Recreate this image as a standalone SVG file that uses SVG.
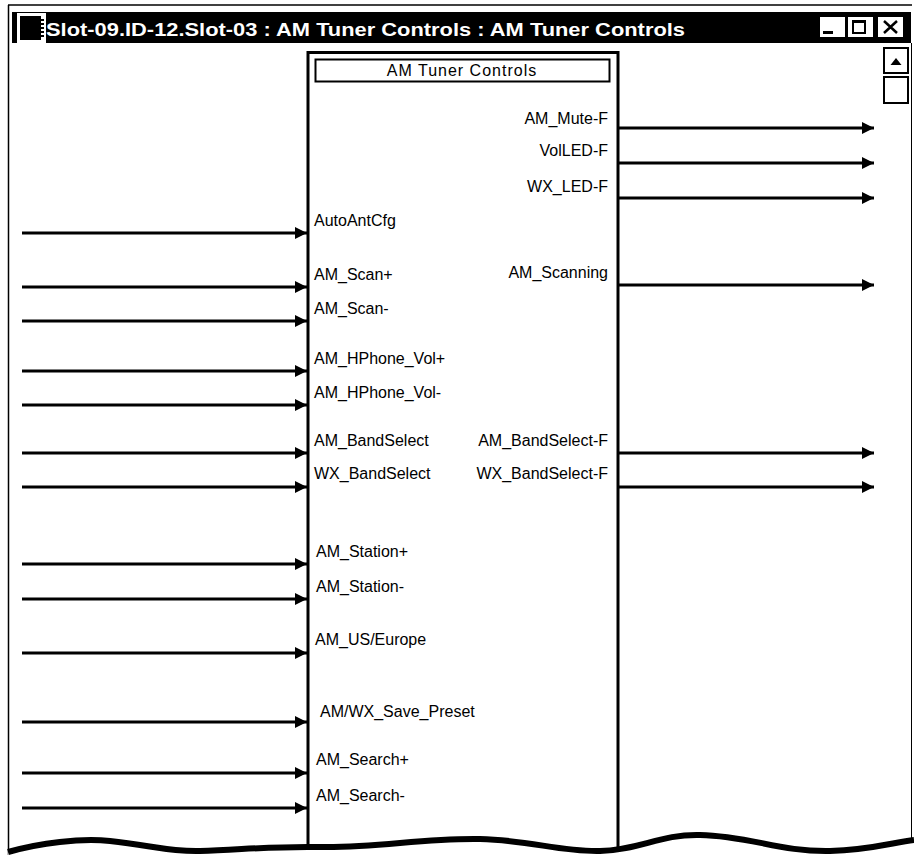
<svg xmlns="http://www.w3.org/2000/svg" width="914" height="855" viewBox="0 0 914 855">
<style>
.lbl{font-family:"Liberation Sans",Arial,sans-serif;font-size:16px;fill:#000}
.r{text-anchor:end}
.wire{stroke:#000;stroke-width:3;fill:none;marker-end:url(#ah)}
.frame{stroke:#000;fill:none}
</style>
<defs>
<marker id="ah" viewBox="0 0 12 12" refX="12" refY="6" markerWidth="12" markerHeight="12" markerUnits="userSpaceOnUse" orient="auto">
<path d="M0,0 L12,6 L0,12 z" fill="#000"/>
</marker>
</defs>
<rect width="914" height="855" fill="#fff"/>
<g id="window">
<line class="frame" x1="8" y1="5" x2="912" y2="5" stroke-width="1.5"/>
<line class="frame" x1="8.5" y1="5" x2="8.5" y2="855" stroke-width="1.5"/>
<line class="frame" x1="911.5" y1="43" x2="911.5" y2="855" stroke-width="1"/>
<rect x="12" y="12" width="899" height="31" fill="#000"/>
<rect x="17" y="13" width="29" height="30" fill="#fff"/>
<rect x="20" y="16" width="21" height="24" fill="#000"/>
<g fill="#000"><rect x="41" y="19" width="3" height="2"/><rect x="41" y="23" width="3" height="2"/><rect x="41" y="27" width="3" height="2"/><rect x="41" y="31" width="3" height="2"/><rect x="41" y="35" width="3" height="2"/></g>
<text x="46" y="36" font-family="Liberation Sans,Arial,sans-serif" font-weight="bold" font-size="19" fill="#fff" textLength="639" lengthAdjust="spacingAndGlyphs">Slot-09.ID-12.Slot-03 : AM Tuner Controls : AM Tuner Controls</text>
<rect x="820" y="17" width="25" height="20" fill="#fff"/>
<rect x="823" y="31" width="10" height="3" fill="#000"/>
<rect x="848" y="17" width="25" height="20" fill="#fff"/>
<rect x="853" y="21" width="12" height="12" fill="none" stroke="#000" stroke-width="2"/>
<line x1="853" y1="22" x2="865" y2="22" stroke="#000" stroke-width="2"/>
<rect x="878" y="17" width="25" height="20" fill="#fff"/>
<path d="M884,21 L897,33 M897,21 L884,33" stroke="#000" stroke-width="2.5"/>
<rect x="884" y="48" width="24" height="25" fill="#fff" stroke="#000" stroke-width="2"/>
<path d="M890.5,65 L896,58 L901.5,65 z" fill="#000"/>
<rect x="884" y="77" width="24" height="26" fill="#fff" stroke="#000" stroke-width="2"/>
</g>
<g id="block">
<rect x="308" y="52.5" width="310" height="820" fill="none" stroke="#000" stroke-width="3"/>
<rect x="315.5" y="59.5" width="294" height="22" fill="none" stroke="#000" stroke-width="2"/>
<text class="lbl" x="462" y="76" text-anchor="middle" letter-spacing="1">AM Tuner Controls</text>
<text class="lbl r" x="608" y="124">AM_Mute-F</text>
<text class="lbl r" x="608" y="156">VolLED-F</text>
<text class="lbl r" x="608" y="192">WX_LED-F</text>
<text class="lbl r" x="608" y="278">AM_Scanning</text>
<text class="lbl r" x="608" y="446">AM_BandSelect-F</text>
<text class="lbl r" x="608" y="479">WX_BandSelect-F</text>
<text class="lbl" x="314" y="226">AutoAntCfg</text>
<text class="lbl" x="314" y="280">AM_Scan+</text>
<text class="lbl" x="314" y="314">AM_Scan-</text>
<text class="lbl" x="314" y="364">AM_HPhone_Vol+</text>
<text class="lbl" x="314" y="398">AM_HPhone_Vol-</text>
<text class="lbl" x="314" y="446">AM_BandSelect</text>
<text class="lbl" x="314" y="479">WX_BandSelect</text>
<text class="lbl" x="316" y="557">AM_Station+</text>
<text class="lbl" x="316" y="592">AM_Station-</text>
<text class="lbl" x="315" y="645">AM_US/Europe</text>
<text class="lbl" x="320" y="717">AM/WX_Save_Preset</text>
<text class="lbl" x="316" y="765">AM_Search+</text>
<text class="lbl" x="316" y="801">AM_Search-</text>
</g>
<g id="connectors">
<path class="wire" d="M22,233 H307"/>
<path class="wire" d="M22,287 H307"/>
<path class="wire" d="M22,321 H307"/>
<path class="wire" d="M22,371 H307"/>
<path class="wire" d="M22,405 H307"/>
<path class="wire" d="M22,453 H307"/>
<path class="wire" d="M22,487 H307"/>
<path class="wire" d="M22,564 H307"/>
<path class="wire" d="M22,599 H307"/>
<path class="wire" d="M22,653 H307"/>
<path class="wire" d="M22,722 H307"/>
<path class="wire" d="M22,773 H307"/>
<path class="wire" d="M22,808 H307"/>
<path class="wire" d="M619,128 H874"/>
<path class="wire" d="M619,163 H874"/>
<path class="wire" d="M619,198 H874"/>
<path class="wire" d="M619,285 H874"/>
<path class="wire" d="M619,453 H874"/>
<path class="wire" d="M619,487 H874"/>
</g>
<g id="tear">
<path d="M8,855 L8,852 C40,843 80,838 110,841 C150,845 170,852 200,851 C240,850 270,846 320,847 C380,848 420,838 480,839 C530,840 560,852 600,851 C640,850 660,834 700,835 C750,836 780,852 830,851 C870,850 895,842 914,840 L914,855 Z" fill="#fff"/>
<path d="M8,852 C40,843 80,838 110,841 C150,845 170,852 200,851 C240,850 270,846 320,847 C380,848 420,838 480,839 C530,840 560,852 600,851 C640,850 660,834 700,835 C750,836 780,852 830,851 C870,850 895,842 914,840" fill="none" stroke="#000" stroke-width="6"/>
</g>
</svg>
